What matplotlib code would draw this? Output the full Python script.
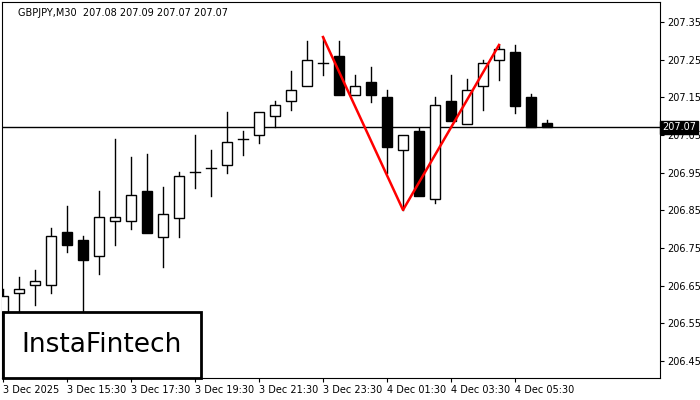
import matplotlib.pyplot as plt
from matplotlib.patches import Rectangle

opens = [206.580, 206.631, 206.652, 206.652, 206.792, 206.771, 206.729, 206.822, 206.822, 206.901,
         206.779, 206.830, 206.952, 206.962, 206.970, 207.039, 207.050, 207.100, 207.140, 207.180,
         207.241, 207.260, 207.156, 207.191, 207.151, 207.010, 207.061, 206.880, 207.140, 207.079,
         207.180, 207.249, 207.270, 207.151, 207.082]
highs = [206.641, 206.673, 206.692, 206.803, 206.861, 206.782, 206.901, 207.039, 206.992, 206.999,
         206.912, 206.952, 207.050, 207.010, 207.111, 207.061, 207.111, 207.140, 207.220, 207.300,
         207.310, 207.300, 207.209, 207.231, 207.169, 207.050, 207.069, 207.151, 207.209, 207.199,
         207.249, 207.289, 207.289, 207.159, 207.090]
lows = [206.560, 206.559, 206.599, 206.631, 206.739, 206.506, 206.681, 206.758, 206.800, 206.790,
        206.700, 206.779, 206.909, 206.888, 206.949, 206.997, 207.029, 207.071, 207.116, 207.180,
        207.209, 207.156, 207.156, 207.138, 206.949, 206.851, 206.888, 206.869, 207.087, 207.079,
        207.116, 207.196, 207.108, 207.071, 207.071]
closes = [206.623, 206.641, 206.662, 206.782, 206.758, 206.718, 206.832, 206.832, 206.891, 206.790,
          206.840, 206.941, 206.952, 206.962, 207.031, 207.039, 207.111, 207.130, 207.169, 207.249,
          207.241, 207.156, 207.180, 207.156, 207.018, 207.050, 206.888, 207.130, 207.087, 207.169,
          207.241, 207.278, 207.127, 207.071, 207.071]
time_labels = ["3 Dec 2025", "3 Dec 15:30", "3 Dec 17:30", "3 Dec 19:30", "3 Dec 21:30",
               "3 Dec 23:30", "4 Dec 01:30", "4 Dec 03:30", "4 Dec 05:30"]
price_ticks = [206.45, 206.55, 206.65, 206.75, 206.85, 206.95, 207.05, 207.15, 207.25, 207.35]
pattern_x = [20, 25, 31]
pattern_y = [207.310, 206.851, 207.289]
last_price = 207.07

fig = plt.figure(figsize=(7, 4), dpi=100)
ax = fig.add_axes([2 / 700, 22 / 400, 658 / 700, 376 / 400])
ax.set_xlim(-0.06, 41.06)
ax.set_ylim(206.405, 207.403)

w = 0.6
for i, (o, h, l, c) in enumerate(zip(opens, highs, lows, closes)):
    lo, hi = min(o, c), max(o, c)
    ax.plot([i, i], [l, lo], color='black', lw=1, zorder=2)
    ax.plot([i, i], [hi, h], color='black', lw=1, zorder=2)
    fc = 'white' if c > o else 'black'
    if abs(c - o) < 0.002:
        ax.plot([i - w / 2, i + w / 2], [o, o], color='black', lw=1, zorder=3)
    else:
        ax.add_patch(Rectangle((i - w / 2, lo), w, hi - lo, facecolor=fc,
                               edgecolor='black', lw=1, zorder=3))

ax.axhline(last_price, color='black', lw=1, zorder=1)
ax.plot(pattern_x, pattern_y, color='#ff0000', lw=1.8, zorder=4)

ax.yaxis.tick_right()
ax.set_yticks(price_ticks)
ax.set_yticklabels([f"{p:.2f}" for p in price_ticks])
ax.set_xticks(range(0, 35, 4))
ax.set_xticklabels(time_labels, ha='left')
ax.tick_params(labelsize=7, length=3, pad=2)
for s in ax.spines.values():
    s.set_linewidth(0.8)

ax.text(last_price and 1.003, last_price, "207.07", transform=ax.get_yaxis_transform(),
        fontsize=7, color='white', va='center', ha='left',
        bbox=dict(boxstyle='square,pad=0.2', fc='black', ec='black'))

ax.text(0.025, 0.985, "GBPJPY,M30  207.08 207.09 207.07 207.07", transform=ax.transAxes,
        fontsize=7, va='top', ha='left')

fig.patches.append(Rectangle((3 / 700, 22 / 400), 198 / 700, 66 / 400, transform=fig.transFigure,
                             facecolor='white', edgecolor='black', lw=2, zorder=10))
fig.text(102 / 700, 55 / 400, "InstaFintech", fontsize=19, ha='center', va='center', zorder=11)

fig.savefig("out.png", dpi=100)
